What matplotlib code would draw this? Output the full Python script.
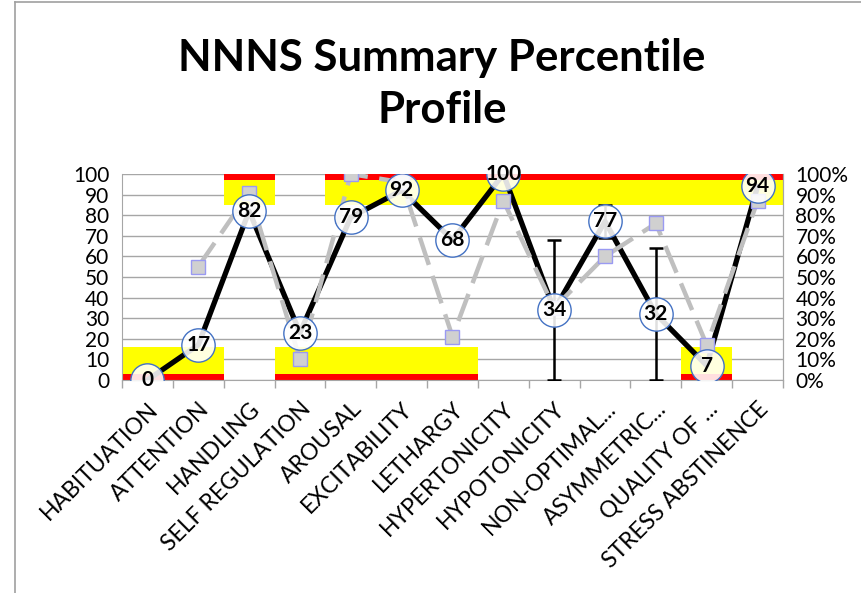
import matplotlib.pyplot as plt
from matplotlib.ticker import MultipleLocator, FuncFormatter
from matplotlib.lines import Line2D

plt.rcParams['font.family'] = ['Lato', 'DejaVu Sans']

categories = ['HABITUATION', 'ATTENTION', 'HANDLING', 'SELF REGULATION', 'AROUSAL',
              'EXCITABILITY', 'LETHARGY', 'HYPERTONICITY', 'HYPOTONICITY',
              'NON-OPTIMAL...', 'ASYMMETRIC...', 'QUALITY OF ...', 'STRESS ABSTINENCE']
scores = [0, 17, 82, 23, 79, 92, 68, 100, 34, 77, 32, 7, 94]
score_err = [0, 0, 0, 0, 0, 0, 0, 0, 34, 8, 32, 0, 0]
# second series (percent), first category has no value
norm_pct = [None, 55, 91, 10, 100, 96, 21, 87, 35, 60, 76, 17, 87]
# band flags: 1 = low band (0-16), 1 = high band (85-100)
low_band = [1, 1, 0, 1, 1, 1, 1, 0, 0, 0, 0, 1, 0]
high_band = [0, 0, 1, 0, 1, 1, 1, 1, 1, 1, 1, 1, 1]
low_red, low_yellow = 3, 13
high_yellow_base, high_yellow, high_red = 85, 12, 3

fig = plt.figure(figsize=(8.62, 5.93), dpi=100)
ax = fig.add_axes([122 / 862, 1 - 380 / 593, 661 / 862, 206 / 593])
x = list(range(len(categories)))

# bands
lr = [low_red * f for f in low_band]
ly = [low_yellow * f for f in low_band]
ax.bar(x, lr, width=1.0, color='#FF0000', zorder=1)
ax.bar(x, ly, width=1.0, bottom=lr, color='#FFFF00', zorder=1)
hy = [high_yellow * f for f in high_band]
hr = [high_red * f for f in high_band]
ax.bar(x, hy, width=1.0, bottom=high_yellow_base, color='#FFFF00', zorder=1)
ax.bar(x, hr, width=1.0, bottom=high_yellow_base + high_yellow, color='#FF0000', zorder=1)

# main score line
ax.plot(x, scores, color='black', lw=3.8, zorder=3, solid_capstyle='round')
ex = [i for i in x if score_err[i] > 0]
ax.errorbar(ex, [scores[i] for i in ex], yerr=[score_err[i] for i in ex], fmt='none',
            ecolor='black', elinewidth=1.8, capsize=5, capthick=1.8, zorder=3)

# second series
gx = [i for i in x if norm_pct[i] is not None]
gy = [norm_pct[i] for i in gx]
ax.plot(gx, gy, color='#BFBFBF', lw=3.2, dashes=(6.5, 2.6), zorder=4,
        marker='s', markersize=10, markerfacecolor='#D0D0D0',
        markeredgecolor='#9A9AF2', markeredgewidth=1.0)

# circle labels
ax.plot(x, scores, ls='none', marker='o', markersize=24, markerfacecolor=(1, 1, 1, 0.88),
        markeredgecolor='#4472C4', markeredgewidth=1.0, zorder=5)
for i, v in zip(x, scores):
    ax.text(i, v, str(v), ha='center', va='center', fontsize=15, fontweight='bold', zorder=6)

ax.set_xlim(-0.5, len(categories) - 0.5)
ax.set_ylim(0, 100)
ax.yaxis.set_major_locator(MultipleLocator(10))
ax.grid(axis='y', color='#A6A6A6', lw=1.0)
ax.set_axisbelow(True)
ax.set_xticks(x)
ax.set_xticklabels(categories, rotation=45, ha='right', rotation_mode='anchor', fontsize=16.5)
ax.set_xticks([i + 0.5 for i in range(-1, len(categories))], minor=True)
ax.tick_params(axis='x', which='major', length=0, pad=13)
ax.tick_params(axis='x', which='minor', length=6, color='#A6A6A6', width=1)
ax.tick_params(axis='y', length=0, labelsize=15, pad=9)
for s in ['top']:
    ax.spines[s].set_visible(False)
for s in ['left', 'right', 'bottom']:
    ax.spines[s].set_color('#A6A6A6')

ax2 = ax.twinx()
ax2.set_ylim(0, 1)
ax2.yaxis.set_major_locator(MultipleLocator(0.1))
ax2.yaxis.set_major_formatter(FuncFormatter(lambda v, p: f'{v * 100:.0f}%'))
ax2.tick_params(axis='y', length=0, labelsize=15, pad=9)
for s in ['top', 'left', 'bottom']:
    ax2.spines[s].set_visible(False)
ax2.spines['right'].set_color('#A6A6A6')

fig.text(442 / 862, 1 - 84 / 593, 'NNNS Summary Percentile\nProfile', ha='center', va='center',
         fontsize=31.5, fontweight='bold', linespacing=1.38)

# chart border
fig.add_artist(Line2D([15 / 862, 15 / 862], [0, 1 - 2 / 593], color='#A0A0A0', lw=1.2))
fig.add_artist(Line2D([15 / 862, 1], [1 - 2 / 593, 1 - 2 / 593], color='#A0A0A0', lw=1.2))

fig.savefig('out.png', dpi=100)
